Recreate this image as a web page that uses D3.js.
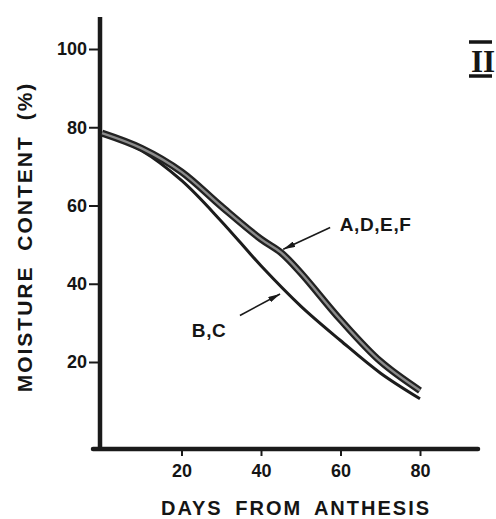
<html>
<head>
<script src="https://d3js.org/d3.v7.min.js"></script>
<style>
  body { margin: 0; background: #fff; }
  text { font-family: "Liberation Sans", Arial, sans-serif; font-weight: bold; fill: #151515; }
</style>
</head>
<body>
<script>
// data: days from anthesis vs moisture content (%)
var daysADEF = [0, 10, 20, 30, 40, 45, 50, 60, 70, 80];
var moistADEF = [78.5, 74.6, 68.6, 59.8, 51.4, 48.0, 42.8, 30.8, 20.2, 12.7];
var daysBC = [0, 10, 20, 30, 40, 50, 60, 70, 80];
var moistBC = [78.5, 74.0, 66.4, 56.0, 44.6, 34.3, 25.5, 17.2, 10.6];
var xTicks = [20, 40, 60, 80];
var yTicks = [20, 40, 60, 80, 100];

var W = 496, H = 519;
var svg = d3.select("body").append("svg")
    .attr("width", W).attr("height", H);

var x = d3.scaleLinear().domain([0, 80]).range([102, 420]);
var y = d3.scaleLinear().domain([20, 100]).range([362, 49]);

// axes lines (thick, hand drawn look)
var axisY = 449, axisX = 100;
svg.append("line")
    .attr("x1", axisX).attr("x2", axisX)
    .attr("y1", 17).attr("y2", axisY + 2)
    .attr("stroke", "#1a1a1a").attr("stroke-width", 4.5);
svg.append("line")
    .attr("x1", axisX - 7).attr("x2", 478)
    .attr("y1", axisY).attr("y2", axisY)
    .attr("stroke", "#1a1a1a").attr("stroke-width", 4.5)
    .attr("stroke-linecap", "round");

// y ticks
var gy = svg.append("g")
    .attr("transform", "translate(" + axisX + ",0)")
    .call(d3.axisLeft(y).tickValues(yTicks).tickSize(11).tickPadding(2));
gy.select(".domain").remove();
gy.selectAll(".tick line").attr("stroke", "#1a1a1a").attr("stroke-width", 2);
gy.selectAll(".tick text").style("font-size", "18px").style("font-family", "Liberation Sans, Arial, sans-serif")
    .style("font-weight", "bold").attr("fill", "#151515");

// x ticks
var gx = svg.append("g")
    .attr("transform", "translate(0," + (axisY + 1) + ")")
    .call(d3.axisBottom(x).tickValues(xTicks).tickSize(6).tickPadding(8));
gx.select(".domain").remove();
gx.selectAll(".tick line").attr("stroke", "#1a1a1a").attr("stroke-width", 2);
gx.selectAll(".tick text").style("font-size", "18px").style("font-family", "Liberation Sans, Arial, sans-serif")
    .style("font-weight", "bold").attr("fill", "#151515");

// axis titles
svg.append("text")
    .attr("x", 296).attr("y", 515)
    .attr("text-anchor", "middle")
    .style("font-size", "20px")
    .style("letter-spacing", "2px")
    .style("word-spacing", "5px")
    .text("DAYS FROM ANTHESIS");

svg.append("text")
    .attr("transform", "translate(32,237) rotate(-90)")
    .attr("text-anchor", "middle")
    .style("font-size", "21px")
    .style("letter-spacing", "2px")
    .style("word-spacing", "7px")
    .text("MOISTURE CONTENT (%)");

// curves
var line = d3.line()
    .x(function(d) { return x(d[0]); })
    .y(function(d) { return y(d[1]); })
    .curve(d3.curveCatmullRom.alpha(0.5));

var ptsADEF = daysADEF.map(function(d, i) { return [d, moistADEF[i]]; });
var ptsBC = daysBC.map(function(d, i) { return [d, moistBC[i]]; });

svg.append("path").attr("d", line(ptsBC))
    .attr("fill", "none").attr("stroke", "#1c1c1c").attr("stroke-width", 3);
svg.append("path").attr("d", line(ptsADEF))
    .attr("fill", "none").attr("stroke", "#222").attr("stroke-width", 7);
svg.append("path").attr("d", line(ptsADEF))
    .attr("fill", "none").attr("stroke", "#8c8c8c").attr("stroke-width", 2.4);

// annotations with arrows
svg.append("defs").append("marker")
    .attr("id", "head")
    .attr("viewBox", "0 0 12 6")
    .attr("refX", 12).attr("refY", 3)
    .attr("markerWidth", 12).attr("markerHeight", 6)
    .attr("markerUnits", "userSpaceOnUse")
    .attr("orient", "auto")
  .append("path")
    .attr("d", "M0,0 L12,3 L0,6 Z")
    .attr("fill", "#1a1a1a");

var labels = ["A,D,E,F", "B,C"];
var labelPos = [[59.8, 53.6], [22.6, 26.4]];
var arrowTail = [[57.4, 54.4], [34.7, 31.9]];
var arrowTip = [[45.6, 48.8], [44.8, 37.4]];

labels.forEach(function(t, i) {
    svg.append("line")
        .attr("x1", x(arrowTail[i][0])).attr("y1", y(arrowTail[i][1]))
        .attr("x2", x(arrowTip[i][0])).attr("y2", y(arrowTip[i][1]))
        .attr("stroke", "#1a1a1a").attr("stroke-width", 1.6)
        .attr("marker-end", "url(#head)");
    svg.append("text")
        .attr("x", x(labelPos[i][0])).attr("y", y(labelPos[i][1]))
        .style("font-size", "19px")
        .style("letter-spacing", "0.6px")
        .text(t);
});

// panel mark "II" in the top right corner
var panel = svg.append("g");
panel.append("text")
    .attr("x", 471).attr("y", 72)
    .style("font-family", "Liberation Serif, serif")
    .style("font-size", "31px")
    .text("II");
panel.append("line").attr("x1", 469).attr("x2", 492).attr("y1", 42).attr("y2", 42)
    .attr("stroke", "#151515").attr("stroke-width", 3.5);
panel.append("line").attr("x1", 469).attr("x2", 492).attr("y1", 76).attr("y2", 76)
    .attr("stroke", "#151515").attr("stroke-width", 3.5);
</script>
</body>
</html>
